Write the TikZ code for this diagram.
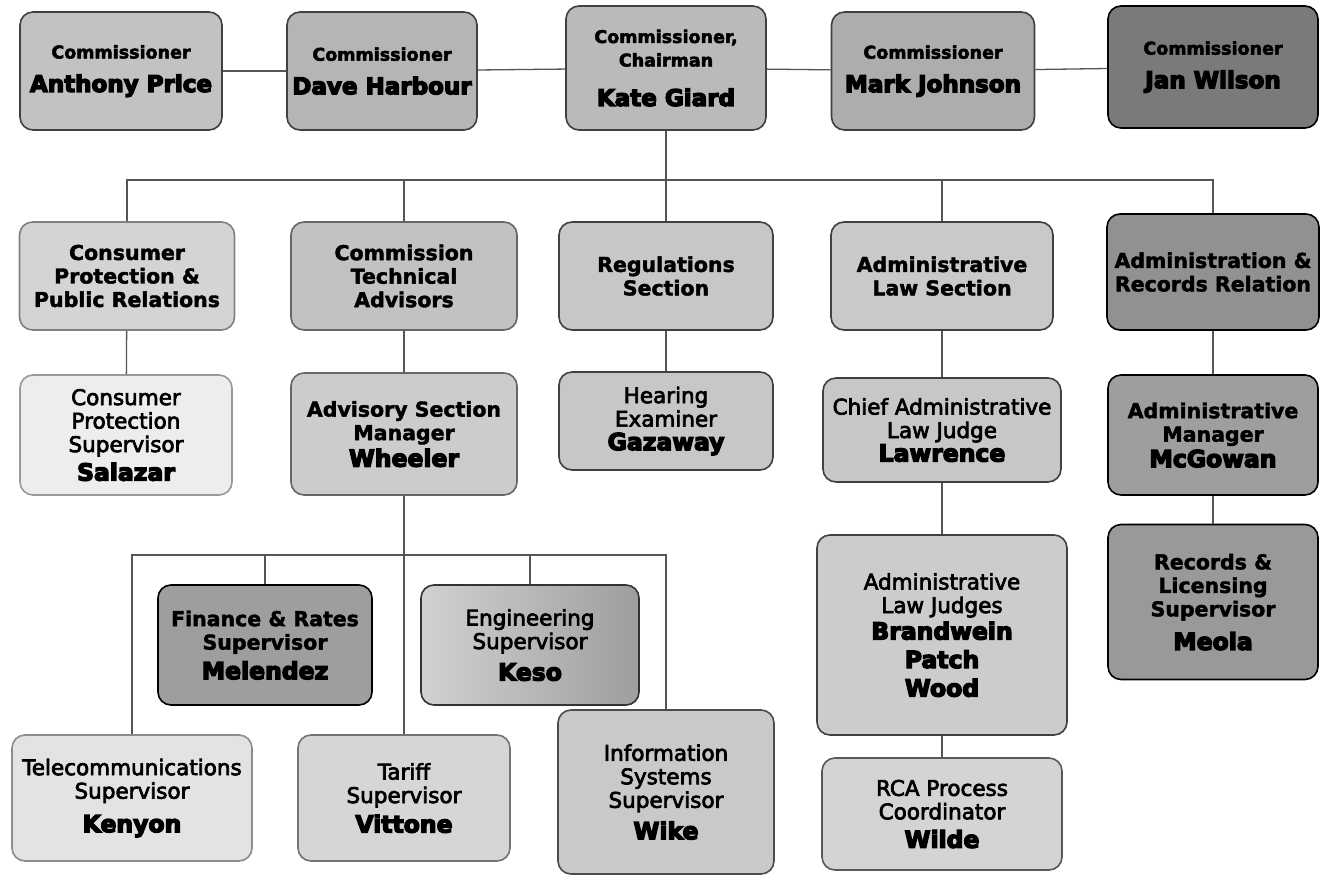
\documentclass[tikz,border=0pt]{standalone}
\usepackage{fontspec}
\setmainfont{DejaVu Sans}
\newfontfamily\medf{DejaVu Sans}
\newfontfamily\boldf{DejaVu Sans Bold}
\newcommand\stk[2]{\special{pdf:literal direct 0 G 2 Tr #1 w}#2\special{pdf:literal direct 0 Tr}}
\newcommand\ttlS[1]{{\fontsize{17.5}{23}\selectfont\boldf\stk{0.5}{#1}}}
\newcommand\ttlB[1]{{\fontsize{20.5}{23}\selectfont\boldf\stk{0.4}{#1}}}
\newcommand\ttlM[1]{{\fontsize{21.5}{23}\selectfont\medf\stk{0.7}{#1}}}
\newcommand\nmT[1]{{\fontsize{23}{23}\selectfont\boldf\stk{1.3}{#1}}}
\newcommand\nmH[1]{{\fontsize{23.5}{23}\selectfont\boldf\stk{1.3}{#1}}}
\definecolor{lnc}{HTML}{555555}
\tikzset{
  box/.style={draw=#1, line width=1.6pt, rounded corners=13pt, align=center, inner sep=1pt, font=\fontsize{21}{23.5}\selectfont},
  box/.default={black!75},
  conn/.style={draw=lnc, line width=1.3pt}
}
\begin{document}
\begin{tikzpicture}[x=1pt,y=-1pt]
\useasboundingbox (0,0) rectangle (1320,889);
% top row
\node[box, fill=black!24, minimum width=202pt, minimum height=118pt] (price) at (121,71) {\ttlS{Commissioner}\\[10pt]\nmT{Anthony Price}};
\node[box, fill=black!29, minimum width=190pt, minimum height=118pt] (harbour) at (382,71) {\ttlS{Commissioner}\\[10pt]\nmT{Dave Harbour}};
\node[box, fill=black!27, minimum width=200pt, minimum height=124pt] (giard) at (666,68) {\ttlS{Commissioner,}\\\ttlS{Chairman}\\[16pt]\nmT{Kate Giard}};
\node[box, fill=black!32, minimum width=203pt, minimum height=118pt] (johnson) at (933,71) {\ttlS{Commissioner}\\[10pt]\nmT{Mark Johnson}};
\node[box=black, fill=black!52, minimum width=210pt, minimum height=122pt] (wilson) at (1213,67) {\ttlS{Commissioner}\\[10pt]\nmT{Jan Wilson}};
\draw[conn] (price) -- (harbour);
\draw[conn] (harbour) -- (giard);
\draw[conn] (giard) -- (johnson);
\draw[conn] (johnson) -- (wilson);
% second row
\coordinate (bus) at (0,180);
\node[box=black!50, fill=black!17, minimum width=215pt, minimum height=108pt] (cppr) at (127,276) {\ttlB{Consumer}\\\ttlB{Protection \&}\\\ttlB{Public Relations}};
\node[box=black!60, fill=black!24, minimum width=226pt, minimum height=108pt] (cta) at (404,276) {\ttlB{Commission}\\\ttlB{Technical}\\\ttlB{Advisors}};
\node[box, fill=black!22, minimum width=214pt, minimum height=108pt] (reg) at (666,276) {\ttlB{Regulations}\\\ttlB{Section}};
\node[box, fill=black!21, minimum width=222pt, minimum height=108pt] (als) at (942,276) {\ttlB{Administrative}\\\ttlB{Law Section}};
\node[box=black, fill=black!43, minimum width=212pt, minimum height=116pt] (arr) at (1213,272) {\ttlB{Administration \&}\\\ttlB{Records Relation}};
\draw[conn] (giard) -- (reg);
\draw[conn] (cppr.north) -- (cppr.north |- bus) -| (arr.north);
\draw[conn] (cta.north) -- (cta.north |- bus);
\draw[conn] (als.north) -- (als.north |- bus);
% third row
\node[box=black!40, fill=black!7, minimum width=212pt, minimum height=120pt] (cps) at (126,435) {\ttlM{Consumer}\\\ttlM{Protection}\\\ttlM{Supervisor}\\[5pt]\nmH{Salazar}};
\node[box=black!60, fill=black!20, minimum width=226pt, minimum height=122pt] (wheeler) at (404,434) {\ttlB{Advisory Section}\\\ttlB{Manager}\\[3pt]\nmH{Wheeler}};
\node[box, fill=black!22, minimum width=214pt, minimum height=98pt] (gaz) at (666,421) {\ttlM{Hearing}\\\ttlM{Examiner}\\\nmH{Gazaway}};
\node[box, fill=black!22, minimum width=238pt, minimum height=104pt] (law) at (942,430) {\ttlM{Chief Administrative}\\\ttlM{Law Judge}\\\nmH{Lawrence}};
\node[box=black, fill=black!38, minimum width=210pt, minimum height=120pt] (mcg) at (1213,435) {\ttlB{Administrative}\\\ttlB{Manager}\\[2pt]\nmH{McGowan}};
\node[box=black, fill=black!40, minimum width=210pt, minimum height=155pt] (rec) at (1213,602) {\ttlB{Records \&}\\\ttlB{Licensing}\\\ttlB{Supervisor}\\[10pt]\nmH{Meola}};
\draw[conn] (cppr) -- (cps);
\draw[conn] (cta) -- (wheeler);
\draw[conn] (reg) -- (gaz);
\draw[conn] (als) -- (law);
\draw[conn] (arr) -- (mcg);
\draw[conn] (mcg) -- (rec);
% law branch
\node[box, fill=black!20, minimum width=250pt, minimum height=200pt] (alj) at (942,635) {\ttlM{Administrative}\\\ttlM{Law Judges}\\[3pt]\nmH{Brandwein}\\[5pt]\nmH{Patch}\\[5pt]\nmH{Wood}};
\node[box=black!65, fill=black!17, minimum width=240pt, minimum height=112pt] (rca) at (942,814) {\ttlM{RCA Process}\\\ttlM{Coordinator}\\[5pt]\nmH{Wilde}};
\draw[conn] (law) -- (alj);
\draw[conn] (alj) -- (rca);
% advisory branch
\coordinate (br) at (0,555);
\node[box=black, fill=black!38, minimum width=214pt, minimum height=120pt] (fin) at (265,645) {\ttlB{Finance \& Rates}\\\ttlB{Supervisor}\\[6pt]\nmH{Melendez}};
\node[box=black!80, left color=black!18, right color=black!38, minimum width=218pt, minimum height=120pt] (eng) at (530,645) {\ttlM{Engineering}\\\ttlM{Supervisor}\\[8pt]\nmH{Keso}};
\node[box=black!45, fill=black!11, minimum width=240pt, minimum height=126pt] (tel) at (132,798) {\ttlM{Telecommunications}\\\ttlM{Supervisor}\\[10pt]\nmH{Kenyon}};
\node[box=black!55, fill=black!16, minimum width=212pt, minimum height=126pt] (tar) at (404,798) {\ttlM{Tariff}\\\ttlM{Supervisor}\\[6pt]\nmH{Vittone}};
\node[box=black!70, fill=black!21, minimum width=216pt, minimum height=164pt] (info) at (666,792) {\ttlM{Information}\\\ttlM{Systems}\\\ttlM{Supervisor}\\[8pt]\nmH{Wike}};
\draw[conn] (wheeler) -- (tar);
\draw[conn] (tel.north) -- (tel.north |- br) -| (info.north);
\draw[conn] (fin.north) -- (fin.north |- br);
\draw[conn] (eng.north) -- (eng.north |- br);
\end{tikzpicture}
\end{document}
